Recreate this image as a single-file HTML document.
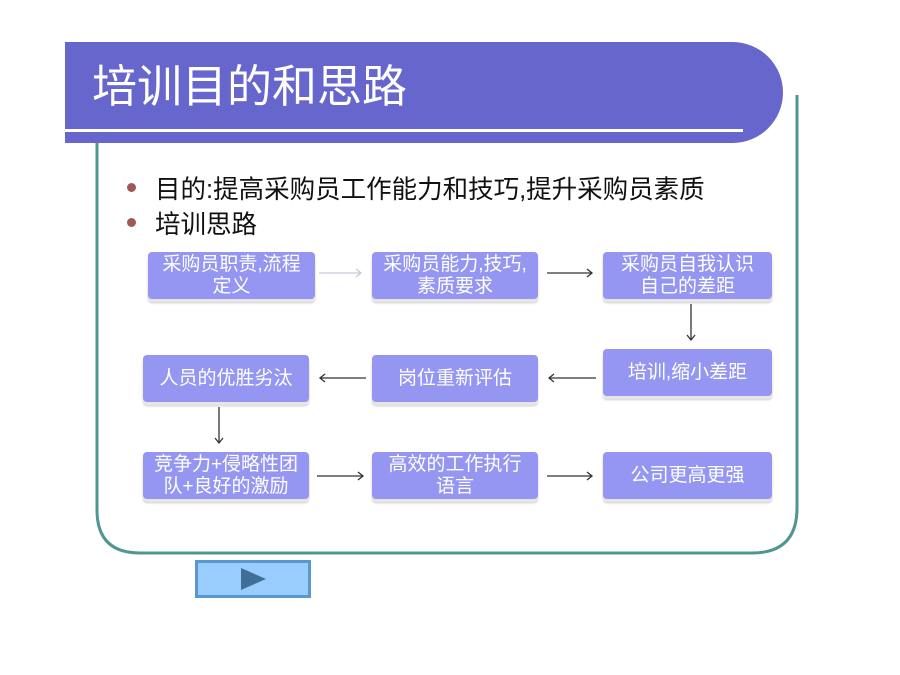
<!DOCTYPE html>
<html><head><meta charset="utf-8"><style>
body{margin:0;width:900px;height:675px;background:#fff;position:relative;overflow:hidden;font-family:"Liberation Sans","Noto Sans CJK SC",sans-serif}
.hdr{position:absolute;left:65px;top:42px;width:718px;height:101px;background:#6666cc;border-radius:0 62px 62px 0}
.title{position:absolute;left:92px;top:61px;color:#fff;font-size:45px;line-height:52px}
.wl{position:absolute;left:65px;top:129px;width:678px;height:3px;background:#fff}
.b{position:absolute;background:#9595f2;color:#fff;font-size:19px;line-height:22px;text-align:center;display:flex;align-items:center;justify-content:center;border-radius:4px;box-shadow:0 3px 0 #e6e6e6,0 4px 2px #ccc}
.bt{position:absolute;font-size:25.5px;color:#111;left:155px}
.dot{position:absolute;width:9px;height:9px;border-radius:50%;background:#a05858;left:127px}
</style></head><body>
<svg width="900" height="675" style="position:absolute;left:0;top:0">
<path d="M97 143 V510 Q97 553 140 553 H752 Q797 553 797 508 V95" fill="none" stroke="#4f9590" stroke-width="3"/>
</svg>
<div class="hdr"></div>
<div class="title">培训目的和思路</div>
<div class="wl"></div>
<div class="dot" style="top:183px"></div><div class="bt" style="top:169px">目的:提高采购员工作能力和技巧,提升采购员素质</div>
<div class="dot" style="top:218px"></div><div class="bt" style="top:204px">培训思路</div>

<div class="b" style="left:148px;top:252px;width:167px;height:47px">采购员职责,流程<br>定义</div>
<div class="b" style="left:372px;top:252px;width:166px;height:47px">采购员能力,技巧,<br>素质要求</div>
<div class="b" style="left:603px;top:252px;width:169px;height:47px">采购员自我认识<br>自己的差距</div>
<div class="b" style="left:143px;top:355px;width:166px;height:47px">人员的优胜劣汰</div>
<div class="b" style="left:372px;top:355px;width:166px;height:47px">岗位重新评估</div>
<div class="b" style="left:603px;top:349px;width:169px;height:47px">培训,缩小差距</div>
<div class="b" style="left:143px;top:452px;width:166px;height:47px">竞争力+侵略性团<br>队+良好的激励</div>
<div class="b" style="left:372px;top:452px;width:166px;height:47px">高效的工作执行<br>语言</div>
<div class="b" style="left:603px;top:452px;width:169px;height:47px">公司更高更强</div>

<svg width="900" height="675" style="position:absolute;left:0;top:0">
<g stroke="#333" stroke-width="1.3" fill="none">
<path d="M319 273 H361 M356 269 L361 273 L356 277" stroke="#c8c8dd"/>
<path d="M547 273 H592 M587 269 L592 273 L587 277"/>
<path d="M691 304 V340 M687 335 L691 340 L695 335"/>
<path d="M596 378 H549 M554 374 L549 378 L554 382"/>
<path d="M366 378 H320 M325 374 L320 378 L325 382"/>
<path d="M219 407 V443 M215 438 L219 443 L223 438"/>
<path d="M317 476 H363 M358 472 L363 476 L358 480"/>
<path d="M547 476 H592 M587 472 L592 476 L587 480"/>
</g>
<rect x="196.5" y="561.5" width="113" height="35" fill="#99ccff" stroke="#5b96cc" stroke-width="3"/>
<path d="M241 568 L266 579 L241 590 Z" fill="#3f6f99"/>
</svg>
</body></html>
